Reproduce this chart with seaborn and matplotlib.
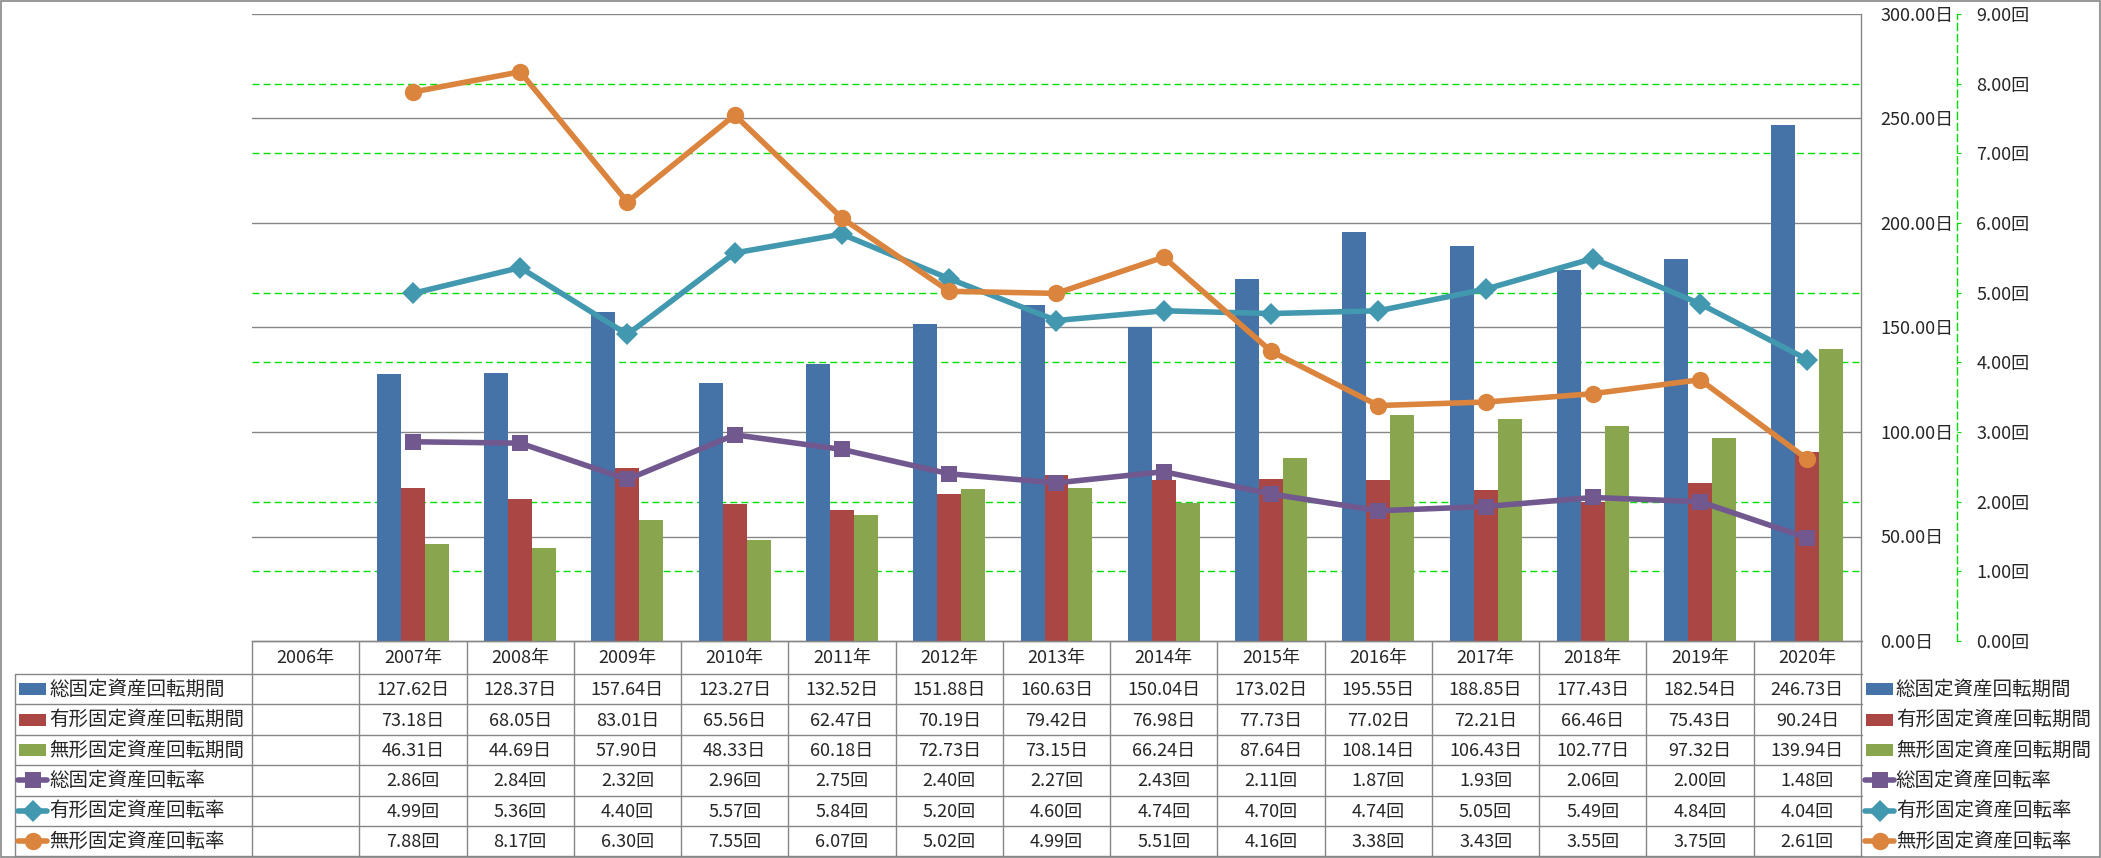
import numpy as np
import pandas as pd
import matplotlib
matplotlib.use("Agg")
import matplotlib.pyplot as plt
from matplotlib.patches import Rectangle
from matplotlib.ticker import FixedLocator
import seaborn as sns

# --- data -----------------------------------------------------------------
years = [f"{y}年" for y in range(2006, 2021)]

bar_names = ["総固定資産回転期間", "有形固定資産回転期間", "無形固定資産回転期間"]
total_days = [np.nan, 127.62, 128.37, 157.64, 123.27, 132.52, 151.88, 160.63,
              150.04, 173.02, 195.55, 188.85, 177.43, 182.54, 246.73]
tangible_days = [np.nan, 73.18, 68.05, 83.01, 65.56, 62.47, 70.19, 79.42,
                 76.98, 77.73, 77.02, 72.21, 66.46, 75.43, 90.24]
intangible_days = [np.nan, 46.31, 44.69, 57.90, 48.33, 60.18, 72.73, 73.15,
                   66.24, 87.64, 108.14, 106.43, 102.77, 97.32, 139.94]

rate_names = ["総固定資産回転率", "有形固定資産回転率", "無形固定資産回転率"]
total_rate = [np.nan, 2.86, 2.84, 2.32, 2.96, 2.75, 2.40, 2.27,
              2.43, 2.11, 1.87, 1.93, 2.06, 2.00, 1.48]
tangible_rate = [np.nan, 4.99, 5.36, 4.40, 5.57, 5.84, 5.20, 4.60,
                 4.74, 4.70, 4.74, 5.05, 5.49, 4.84, 4.04]
intangible_rate = [np.nan, 7.88, 8.17, 6.30, 7.55, 6.07, 5.02, 4.99,
                   5.51, 4.16, 3.38, 3.43, 3.55, 3.75, 2.61]

day_ticks = [0, 50, 100, 150, 200, 250, 300]
rate_ticks = [0, 1, 2, 3, 4, 5, 6, 7, 8, 9]

# --- style ----------------------------------------------------------------
BAR_COLORS = ["#4572A7", "#AA4643", "#89A54E"]
LINE_COLORS = ["#71588F", "#4198AF", "#DB843D"]
MARKERS = ["s", "D", "o"]
MSIZES = [11.5, 11, 12.5]
GRAY = "#868686"
GREEN = "#00E000"
DASH = (0, (5, 3))

W, H = 2101, 858
PL, PR, PT, PB = 252, 1861, 14, 641      # plot area in pixels
HEAD_B = 674                              # bottom of the year header row
ROW_H = 30.4

sns.set_style("white")
plt.rcParams["font.family"] = ["Noto Sans CJK JP", "DejaVu Sans"]

fig = plt.figure(figsize=(W / 100, H / 100), dpi=100)

# table / frame layer in pixel coordinates
tab = fig.add_axes([0, 0, 1, 1])
tab.set_xlim(0, W)
tab.set_ylim(H, 0)
tab.axis("off")
tab.patch.set_alpha(0)

ax = fig.add_axes([PL / W, 1 - PB / H, (PR - PL) / W, (PB - PT) / H])
ax2 = ax.twinx()

# --- bars -----------------------------------------------------------------
days_df = pd.DataFrame({"year": years, bar_names[0]: total_days,
                        bar_names[1]: tangible_days, bar_names[2]: intangible_days})
long_days = days_df.melt(id_vars="year", var_name="series", value_name="value").dropna()
sns.barplot(data=long_days, x="year", y="value", hue="series", order=years,
            hue_order=bar_names, palette=BAR_COLORS, saturation=1, width=0.67,
            gap=0, errorbar=None, legend=False, linewidth=0, ax=ax, zorder=2)

# --- lines ----------------------------------------------------------------
rates = [total_rate, tangible_rate, intangible_rate]
pos = np.arange(len(years))
for vals, col, mk, ms in zip(rates, LINE_COLORS, MARKERS, MSIZES):
    sns.lineplot(x=pos, y=vals, ax=ax2, color=col, marker=mk, markersize=ms,
                 markeredgewidth=0, linewidth=4, legend=False)

# --- axes -----------------------------------------------------------------
ax.set_xlim(-0.5, len(years) - 0.5)
ax.set_ylim(day_ticks[0], day_ticks[-1])
ax2.set_ylim(rate_ticks[0], rate_ticks[-1])
ax.set_xlabel("")
ax.set_ylabel("")
ax2.set_xlabel("")
ax2.set_ylabel("")
ax.tick_params(axis="x", length=0, labelbottom=False)

ax.yaxis.tick_right()
ax.set_yticks(day_ticks)
ax.set_yticklabels([f"{v:.2f}日" for v in day_ticks])
ax.tick_params(axis="y", length=0, pad=14, labelsize=13)
ax.set_axisbelow(True)
ax.yaxis.grid(True, color=GRAY, linewidth=1)
scale = day_ticks[-1] / rate_ticks[-1]
ax.yaxis.set_minor_locator(FixedLocator([r * scale for r in rate_ticks[1:-1]]))
ax.yaxis.grid(True, which="minor", color=GREEN, linestyle=DASH, linewidth=1)
ax.tick_params(axis="y", which="minor", length=0)
for s in ["left", "top"]:
    ax.spines[s].set_visible(False)
for s in ["right", "bottom"]:
    ax.spines[s].set_color(GRAY)
    ax.spines[s].set_linewidth(1)

ax2.set_yticks(rate_ticks)
ax2.set_yticklabels([f"{v:.2f}回" for v in rate_ticks])
ax2.spines["right"].set_position(("outward", (1957 - PR) * 0.72))
ax2.spines["right"].set_color(GREEN)
ax2.spines["right"].set_linestyle(DASH)
ax2.spines["right"].set_linewidth(1)
for s in ["left", "top", "bottom"]:
    ax2.spines[s].set_visible(False)
ax2.tick_params(axis="y", direction="out", length=3, color=GREEN, pad=11,
                labelsize=13)
ax2.grid(False)
ax2.set_xlim(-0.5, len(years) - 0.5)

# --- data table -----------------------------------------------------------
n = len(years)
col_x = PL + np.arange(n + 1) * (PR - PL) / n
row_y = HEAD_B + np.arange(7) * ROW_H
TL = 15

tab.plot([PL, PR + 1], [PB, PB], color=GRAY, lw=1)
for y in row_y:
    tab.plot([TL, PR + 1], [y, y], color=GRAY, lw=1)
tab.plot([TL, TL], [row_y[0], row_y[-1]], color=GRAY, lw=1)
for x in col_x:
    tab.plot([x, x], [PB, row_y[-1]], color=GRAY, lw=1)

for i, yr in enumerate(years):
    cx = (col_x[i] + col_x[i + 1]) / 2
    tab.text(cx, (PB + HEAD_B) / 2, yr, ha="center", va="center", fontsize=13)

all_names = bar_names + rate_names
all_vals = [total_days, tangible_days, intangible_days] + rates
units = ["日"] * 3 + ["回"] * 3
for r, (name, vals, unit) in enumerate(zip(all_names, all_vals, units)):
    cy = (row_y[r] + row_y[r + 1]) / 2
    for i, v in enumerate(vals):
        if np.isnan(v):
            continue
        cx = (col_x[i] + col_x[i + 1]) / 2
        tab.text(cx, cy + 1, f"{v:.2f}{unit}", ha="center", va="center", fontsize=13)
    # key inside the table and in the legend on the right
    for x0, tx in [(TL + 4, TL + 34), (1866, 1896)]:
        if r < 3:
            tab.add_patch(Rectangle((x0, cy - 6), 27, 12, color=BAR_COLORS[r], lw=0))
        else:
            k = r - 3
            tab.plot([x0 - 1, x0 + 28], [cy, cy], color=LINE_COLORS[k], lw=4)
            tab.plot([x0 + 13.5], [cy], color=LINE_COLORS[k], marker=MARKERS[k],
                     markersize=MSIZES[k], markeredgewidth=0)
        tab.text(tx, cy, name, ha="left", va="center", fontsize=14)

# outer frame
tab.add_patch(Rectangle((1, 1), W - 2, H - 2, fill=False, edgecolor=GRAY, lw=1.2))

fig.savefig("out.png", dpi=100)
